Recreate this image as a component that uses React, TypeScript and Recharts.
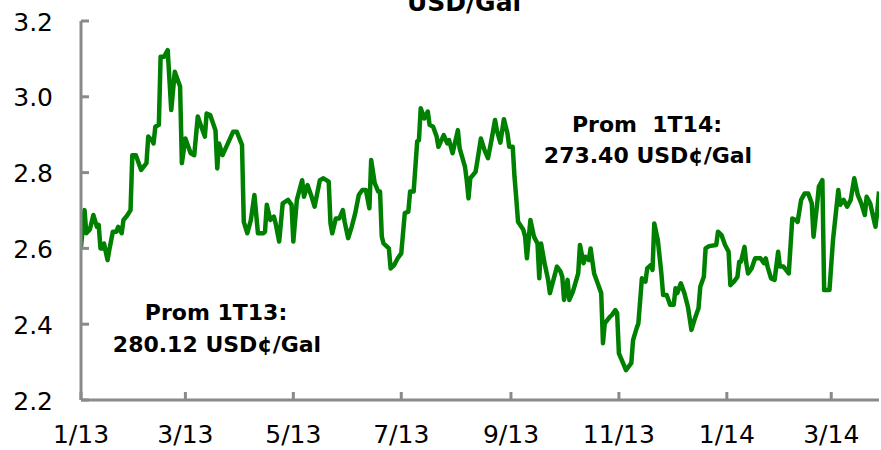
import React from "react";
import { LineChart, Line, XAxis, YAxis } from "recharts";

// days since 1 Jan 2013, gasoline price in USD/Gal
const days = [
  0, 2, 3, 5, 7, 9, 10, 11, 12, 13, 15, 16, 18, 20, 21, 23, 24, 26, 28, 29,
  31, 34, 37, 38, 40, 41, 42, 44, 45, 47, 49, 50, 51, 53, 54, 56, 57, 59, 60, 62,
  64, 66, 68, 70, 71, 73, 76, 77, 78, 80, 83, 86, 88, 91, 92, 94, 96, 98, 100, 103,
  104, 105, 107, 109, 110, 112, 114, 117, 119, 120, 122, 125, 126, 128, 130, 132, 135, 137, 140, 141,
  142, 144, 146, 148, 149, 151, 153, 155, 157, 159, 161, 163, 164, 166, 168, 169, 170, 171, 174, 175,
  177, 179, 181, 183, 185, 186, 188, 190, 191, 192, 194, 196, 197, 199, 201, 202, 205, 207, 208, 210,
  213, 214, 217, 218, 219, 220, 223, 224, 226, 228, 230, 232, 234, 235, 237, 239, 241, 242, 244, 245,
  246, 247, 250, 251, 252, 254, 256, 258, 259, 260, 262, 264, 265, 267, 269, 271, 272, 273, 275, 276,
  278, 281, 282, 284, 285, 287, 288, 290, 292, 294, 295, 296, 299, 300, 302, 303, 304, 306, 308, 311,
  312, 314, 315, 317, 319, 320, 322, 323, 324, 326, 328, 329, 331, 333, 335, 336, 337, 339, 341, 343,
  345, 347, 349, 350, 352, 353, 355, 359, 360, 362, 364, 366, 367, 369, 371, 372, 373, 375, 376, 377,
  379, 381, 384, 386, 387, 388, 390, 392, 394, 395, 397, 400, 402, 404, 405, 407, 409, 411, 413, 414,
  416, 417, 419, 420, 423, 425, 428, 429, 431, 433, 435, 437, 439, 441, 443, 444, 446, 449, 450, 451,
];

const prices = [
  2.604, 2.701, 2.64, 2.65, 2.688, 2.657, 2.662, 2.6, 2.6, 2.613, 2.569, 2.596, 2.644, 2.644, 2.657, 2.64, 2.675, 2.686, 2.701, 2.846,
  2.846, 2.807, 2.825, 2.895, 2.886, 2.877, 2.921, 2.926, 3.106, 3.106, 3.123, 3.044, 2.965, 3.066, 3.053, 3.027, 2.825, 2.89, 2.877, 2.851,
  2.846, 2.948, 2.921, 2.895, 2.956, 2.952, 2.912, 2.811, 2.877, 2.846, 2.877, 2.908, 2.908, 2.873, 2.67, 2.64, 2.675, 2.741, 2.64, 2.64,
  2.644, 2.715, 2.675, 2.684, 2.666, 2.618, 2.719, 2.728, 2.715, 2.618, 2.728, 2.78, 2.736, 2.767, 2.741, 2.71, 2.78, 2.785, 2.776, 2.666,
  2.64, 2.679, 2.679, 2.701, 2.67, 2.627, 2.657, 2.693, 2.741, 2.754, 2.754, 2.706, 2.833, 2.772, 2.75, 2.75, 2.631, 2.613, 2.6, 2.547,
  2.556, 2.574, 2.587, 2.693, 2.697, 2.75, 2.75, 2.882, 2.886, 2.97, 2.943, 2.961, 2.926, 2.921, 2.895, 2.868, 2.899, 2.877, 2.886, 2.851,
  2.912, 2.864, 2.816, 2.78, 2.732, 2.785, 2.802, 2.83, 2.89, 2.86, 2.838, 2.886, 2.939, 2.912, 2.879, 2.941, 2.904, 2.868, 2.868, 2.789,
  2.732, 2.67, 2.649, 2.631, 2.574, 2.675, 2.631, 2.613, 2.521, 2.613, 2.561, 2.517, 2.482, 2.517, 2.552, 2.539, 2.525, 2.464, 2.517, 2.464,
  2.486, 2.534, 2.609, 2.561, 2.578, 2.569, 2.6, 2.534, 2.508, 2.482, 2.35, 2.402, 2.42, 2.424, 2.437, 2.429, 2.323, 2.301, 2.279, 2.297,
  2.358, 2.389, 2.402, 2.521, 2.512, 2.547, 2.556, 2.543, 2.666, 2.622, 2.534, 2.477, 2.477, 2.451, 2.451, 2.495, 2.482, 2.508, 2.482, 2.446,
  2.385, 2.416, 2.442, 2.499, 2.525, 2.6, 2.606, 2.609, 2.644, 2.635, 2.609, 2.591, 2.503, 2.512, 2.525, 2.565, 2.565, 2.604, 2.561, 2.534,
  2.547, 2.574, 2.574, 2.561, 2.574, 2.552, 2.521, 2.517, 2.591, 2.552, 2.552, 2.534, 2.679, 2.675, 2.67, 2.728, 2.745, 2.745, 2.719, 2.631,
  2.715, 2.763, 2.78, 2.49, 2.49, 2.622, 2.754, 2.715, 2.728, 2.71, 2.728, 2.785, 2.741, 2.719, 2.688, 2.736, 2.719, 2.657, 2.697, 2.75,
];

const monthTicks = [0, 59, 120, 181, 243, 304, 365, 424];
const monthLabels = ["1/13", "3/13", "5/13", "7/13", "9/13", "11/13", "1/14", "3/14"];
const priceTicks = [2.2, 2.4, 2.6, 2.8, 3.0, 3.2];

const data = days.map((d, i) => ({ day: d, price: prices[i] }));

const AXIS_COLOR = "#8a8a8a";
const FONT = "'DejaVu Sans', sans-serif";

function XTick({ x, y, payload }: any) {
  const label = monthLabels[monthTicks.indexOf(payload.value)];
  return (
    <g>
      <line x1={x} x2={x} y1={y - 8} y2={y} stroke={AXIS_COLOR} strokeWidth={3} />
      <text x={x} y={y + 43} textAnchor="middle" fontFamily={FONT} fontSize={25} fill="#000">
        {label}
      </text>
    </g>
  );
}

function YTick({ x, y, payload }: any) {
  return (
    <g>
      <line x1={x} x2={x + 8} y1={y} y2={y} stroke={AXIS_COLOR} strokeWidth={3} />
      <text x={x - 28} y={y + 9.5} textAnchor="end" fontFamily={FONT} fontSize={25} fill="#000">
        {Number(payload.value).toFixed(1)}
      </text>
    </g>
  );
}

const noteStyle = {
  fontFamily: FONT,
  fontSize: 22,
  fontWeight: 700,
  whiteSpace: "pre" as const,
};

export default function App() {
  return (
    <div style={{ position: "absolute", left: 0, top: 0, width: 881, height: 450, background: "#fff" }}>
      <LineChart width={881} height={450} data={data} margin={{ top: 21, right: 2, bottom: 0, left: 0 }}>
        <XAxis
          dataKey="day"
          type="number"
          domain={[0, 451]}
          ticks={monthTicks}
          interval={0}
          tickSize={0}
          tickMargin={0}
          tick={<XTick />}
          tickLine={false}
          height={50}
          axisLine={{ stroke: AXIS_COLOR, strokeWidth: 3 }}
          allowDataOverflow
        />
        <YAxis
          type="number"
          domain={[2.2, 3.2]}
          ticks={priceTicks}
          interval={0}
          width={81}
          tickSize={0}
          tickMargin={0}
          tick={<YTick />}
          tickLine={false}
          axisLine={{ stroke: AXIS_COLOR, strokeWidth: 3 }}
          allowDataOverflow
        />
        <Line
          type="linear"
          dataKey="price"
          stroke="#008000"
          strokeWidth={4.5}
          dot={false}
          strokeLinejoin="round"
          isAnimationActive={false}
        />
      </LineChart>
      <svg
        width={881}
        height={450}
        style={{ position: "absolute", left: 0, top: 0, pointerEvents: "none" }}
      >
        <text x={464} y={11} textAnchor="middle" style={{ ...noteStyle, fontSize: 25 }}>
          USD/Gal
        </text>
        <text x={216} y={320} textAnchor="middle" style={noteStyle}>
          Prom 1T13:
        </text>
        <text x={217} y={352} textAnchor="middle" style={noteStyle}>
          280.12 USD¢/Gal
        </text>
        <text x={647} y={132} textAnchor="middle" style={noteStyle}>
          Prom  1T14:
        </text>
        <text x={648} y={163} textAnchor="middle" style={noteStyle}>
          273.40 USD¢/Gal
        </text>
      </svg>
    </div>
  );
}
